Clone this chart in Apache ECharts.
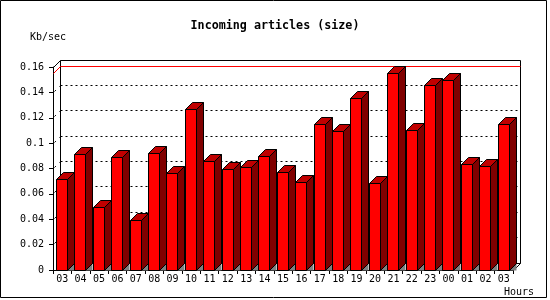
<!DOCTYPE html>
<html><head><meta charset="utf-8">
<script src="https://cdn.jsdelivr.net/npm/echarts@6/dist/echarts.min.js"></script>
<style>html,body{margin:0;padding:0;background:#fff}#c{width:550px;height:300px}</style>
</head><body><div id="c"></div>
<script>
const hours = ['03','04','05','06','07','08','09','10','11','12','13','14','15','16','17','18','19','20','21','22','23','00','01','02','03'];
const kbPerSec = [0.0714,0.0910,0.0493,0.0887,0.0390,0.0918,0.0760,0.1264,0.0855,0.0792,0.0808,0.0894,0.0769,0.0690,0.1146,0.1091,0.1351,0.0682,0.1548,0.1101,0.1453,0.1492,0.0831,0.0816,0.1146];
const yTicks = [0,0.02,0.04,0.06,0.08,0.10,0.12,0.14,0.16];

const DX = 7, DY = 7;
const MONO = 'DejaVu Sans Mono';
const yMax = yTicks[yTicks.length-1];
const maxVal = Math.max.apply(null, kbPerSec);
const snap = v => Math.round(v - 0.5) + 0.5;

function renderWall(params, api){
  const cs = params.coordSys;
  const t = api.value(1);
  const y = snap(api.coord([0, t])[1]);
  const y0 = snap(api.coord([0, 0])[1]);
  const xL = snap(cs.x), xR = snap(cs.x + cs.width);
  const ch = [];
  if (t === yMax) {
    ch.push({type:'rect', shape:{x:xL+DX, y:y-DY, width:xR-xL, height:y0-y}, style:{fill:null, stroke:'#000', lineWidth:1}});
    ch.push({type:'line', shape:{x1:xL, y1:y, x2:xL+DX, y2:y-DY}, style:{stroke:'#000', lineWidth:1}});
  } else if (t === 0) {
    ch.push({type:'line', shape:{x1:xR, y1:y0, x2:xR+DX, y2:y0-DY}, style:{stroke:'#000', lineWidth:1}});
  } else {
    ch.push({type:'line', shape:{x1:xL+DX, y1:y-DY, x2:xR+DX, y2:y-DY}, style:{stroke:'#000', lineWidth:1, lineDash:[2,3]}});
    ch.push({type:'line', shape:{x1:xL+1, y1:y-1, x2:xL+DX, y2:y-DY}, style:{stroke:'#000', lineWidth:1, lineDash:[2,5]}});
  }
  return {type:'group', children: ch};
}

function renderMax(params, api){
  const cs = params.coordSys;
  const y = snap(api.coord([0, api.value(1)])[1]);
  const xL = snap(cs.x), xR = snap(cs.x + cs.width);
  return {type:'group', children:[
    {type:'line', shape:{x1:xL+DX, y1:y-DY, x2:xR+DX, y2:y-DY}, style:{stroke:'#ff0000', lineWidth:1}},
    {type:'line', shape:{x1:xL, y1:y, x2:xL+DX, y2:y-DY}, style:{stroke:'#ff0000', lineWidth:1}}
  ]};
}

function renderBar(params, api){
  const i = api.value(0), v = api.value(1);
  const top = api.coord([i, v]), base = api.coord([i, 0]);
  const bw = api.size([1, 0])[0];
  const x0 = snap(top[0] - bw*0.315), x1 = snap(top[0] - bw*0.315 + bw*0.6);
  const yT = snap(top[1]), yB = snap(base[1]);
  const st = {stroke:'#000', lineWidth:1};
  return {type:'group', children:[
    {type:'polygon', shape:{points:[[x1,yB],[x1+DX,yB-DY],[x1+DX,yB]]}, style:{fill:'#808080'}},
    {type:'polygon', shape:{points:[[x1,yT],[x1+DX,yT-DY],[x1+DX,yB-DY],[x1,yB]]}, style:Object.assign({fill:'#800000'}, st)},
    {type:'polygon', shape:{points:[[x0,yT],[x0+DX,yT-DY],[x1+DX,yT-DY],[x1,yT]]}, style:Object.assign({fill:'#c00000'}, st)},
    {type:'rect', shape:{x:x0, y:yT, width:x1-x0, height:yB-yT}, style:Object.assign({fill:'#ff0000'}, st)}
  ]};
}

const chart = echarts.init(document.getElementById('c'), null, {renderer:'canvas'});
chart.setOption({
  animation: false,
  backgroundColor: '#fff',
  title: [
    {text:'Incoming articles (size)', left:'center', top:19, padding:0,
     textStyle:{fontFamily:MONO, fontWeight:'bold', fontSize:11.7, lineHeight:14, color:'#000'}},
    {text:'Kb/sec', left:30, top:31, padding:0,
     textStyle:{fontFamily:MONO, fontWeight:'normal', fontSize:10, lineHeight:12, color:'#000'}},
    {text:'Hours', left:504, top:286, padding:0,
     textStyle:{fontFamily:MONO, fontWeight:'normal', fontSize:10, lineHeight:12, color:'#000'}}
  ],
  graphic: [{type:'rect', shape:{x:0.5, y:0.5, width:546, height:297}, style:{fill:null, stroke:'#000', lineWidth:1}, z:100}],
  grid: {left:53, top:67, width:460, height:203, containLabel:false},
  xAxis: {
    type:'category', data:hours, boundaryGap:true,
    axisLine:{show:true, lineStyle:{color:'#000', width:1}},
    axisTick:{show:true, length:4, lineStyle:{color:'#000'}},
    axisLabel:{fontFamily:MONO, fontSize:10, color:'#000', margin:4, interval:0},
    splitLine:{show:false}
  },
  yAxis: {
    type:'value', min:0, max:yMax, interval:0.02,
    axisLine:{show:true, lineStyle:{color:'#000', width:1}},
    axisTick:{show:true, length:4, lineStyle:{color:'#000'}},
    axisLabel:{fontFamily:MONO, fontSize:10, color:'#000', margin:9},
    splitLine:{show:false}
  },
  series: [
    {type:'custom', z:1, renderItem:renderWall, data:yTicks.map(t=>[0,t]), encode:{x:0, y:1}, silent:true, clip:false},
    {type:'custom', z:2, renderItem:renderMax, data:[[0,maxVal]], encode:{x:0, y:1}, silent:true, clip:false},
    {type:'custom', z:3, renderItem:renderBar, data:kbPerSec.map((v,i)=>[i,v]), encode:{x:0, y:1}, silent:true, clip:false}
  ]
});
</script></body></html>
